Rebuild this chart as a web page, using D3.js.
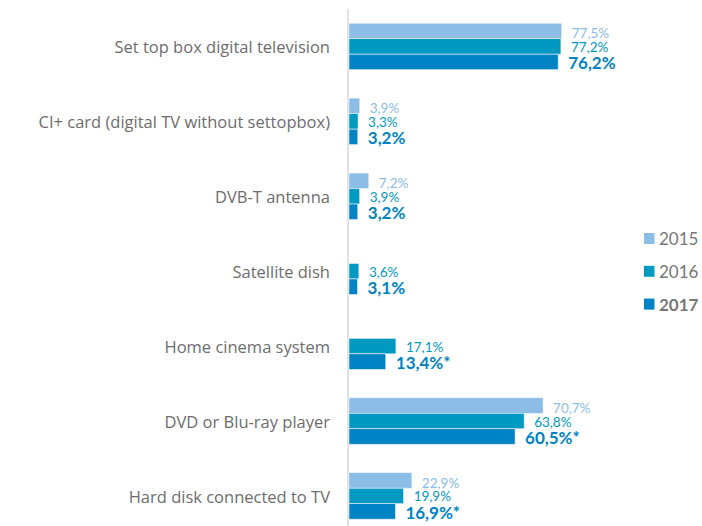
<!DOCTYPE html>
<html>
<head>
<meta charset="utf-8">
<script src="https://cdn.jsdelivr.net/npm/d3@7/dist/d3.min.js"></script>
<style>
  html, body { margin: 0; padding: 0; background: #fff; }
  svg { display: block; }
</style>
</head>
<body>
<svg id="chart" width="702" height="526"></svg>
<script>
const categories = [
  "Set top box digital television",
  "CI+ card (digital TV without settopbox)",
  "DVB-T antenna",
  "Satellite dish",
  "Home cinema system",
  "DVD or Blu-ray player",
  "Hard disk connected to TV"
];
const years = ["2015", "2016", "2017"];
const values2015 = [77.5, 3.9, 7.2, null, null, 70.7, 22.9];
const values2016 = [77.2, 3.3, 3.9, 3.6, 17.1, 63.8, 19.9];
const values2017 = [76.2, 3.2, 3.2, 3.1, 13.4, 60.5, 16.9];
const significant2017 = [false, false, false, false, true, true, true];
const colors = ["#8bbde6", "#0099c1", "#0083c4"];

const seriesValues = [values2015, values2016, values2017];
const svg = d3.select("#chart");
const font = "Lato, 'Open Sans', sans-serif";
const labelFont = "'Open Sans', Lato, sans-serif";

const x = d3.scaleLinear().domain([0, 100]).range([349, 349 + 274.5]);
const y = d3.scaleBand().domain(categories).range([9, 533.4]).paddingInner(0.38).paddingOuter(0.19);
const yInner = d3.scaleBand().domain(years).range([0, y.bandwidth()]);

// axis line
svg.append("line")
  .attr("x1", 348).attr("x2", 348).attr("y1", 9).attr("y2", 526)
  .attr("stroke", "#d9d9d9").attr("stroke-width", 1.5);

// category labels
svg.append("g").selectAll("text").data(categories).join("text")
  .attr("x", 330)
  .attr("y", d => y(d) + y.bandwidth() / 2)
  .attr("dy", "0.42em")
  .attr("text-anchor", "end")
  .attr("font-family", labelFont)
  .attr("font-size", 16.5)
  .attr("fill", "#6d6d6d")
  .text(d => d);

const fmt = v => d3.format(".1f")(v).replace(".", ",") + "%";
const baseOffset = [0.7, 2.2, 0.3];

years.forEach((yr, si) => {
  const data = categories.map((c, i) => ({ c, i, v: seriesValues[si][i] })).filter(d => d.v != null);
  const g = svg.append("g");
  g.selectAll("rect").data(data).join("rect")
    .attr("x", x(0))
    .attr("y", d => y(d.c) + yInner(yr))
    .attr("width", d => x(d.v) - x(0))
    .attr("height", yInner.bandwidth())
    .attr("fill", colors[si])
    .attr("stroke", "#e8f2fa").attr("stroke-width", 0.6);
  g.selectAll("text").data(data).join("text")
    .attr("x", d => x(d.v) + 10)
    .attr("y", d => y(d.c) + yInner(yr) + yInner.bandwidth() - baseOffset[si])
    .attr("font-family", font)
    .attr("font-size", si === 2 ? 17 : 13.5)
    .attr("font-weight", si === 2 ? "bold" : "normal")
    .attr("fill", colors[si])
    .text(d => fmt(d.v) + (si === 2 && significant2017[d.i] ? "*" : ""));
});

// legend
const legend = svg.append("g");
years.forEach((yr, i) => {
  const ly = 233 + i * 32.8;
  legend.append("rect").attr("x", 644).attr("y", ly).attr("width", 10.5).attr("height", 11)
    .attr("fill", colors[i]);
  legend.append("text").attr("x", 659).attr("y", ly + 12)
    .attr("font-family", font).attr("font-size", 17)
    .attr("font-weight", i === 2 ? "bold" : "normal")
    .attr("fill", "#777").text(yr);
});
</script>
</body>
</html>
